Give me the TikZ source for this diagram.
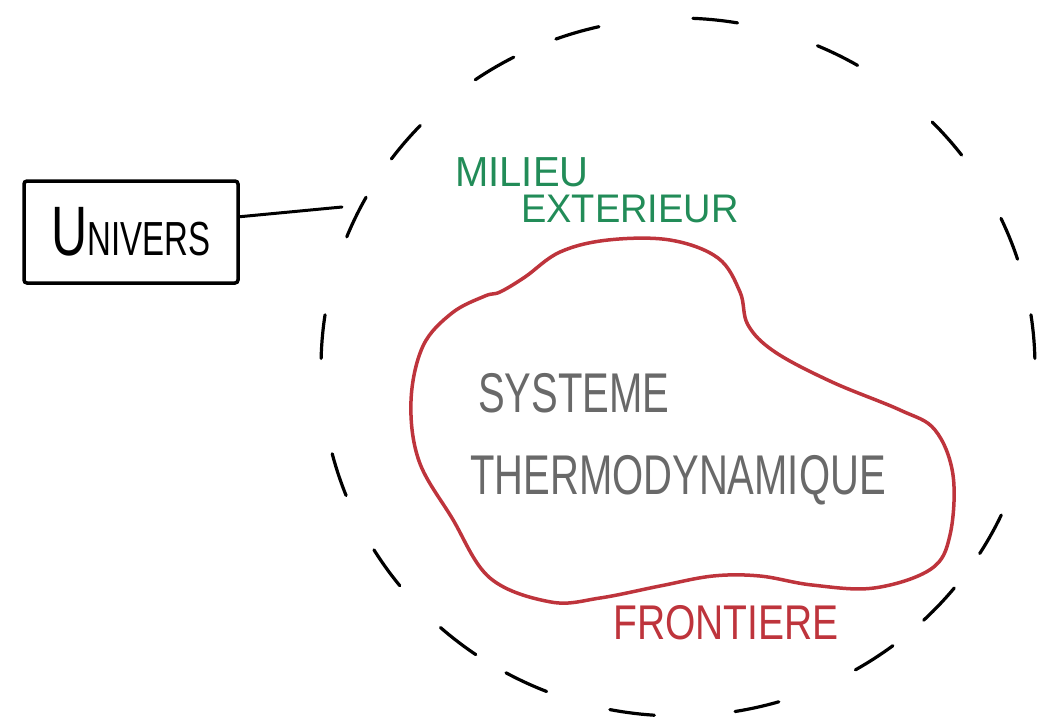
\documentclass[tikz,border=0pt]{standalone}
\usepackage{fontspec}
\setmainfont{Liberation Sans}

\definecolor{milieugreen}{RGB}{34,140,88}
\definecolor{frontred}{RGB}{190,52,60}
\definecolor{sysgray}{RGB}{105,105,105}

% size, vertical stretch, text
\newcommand{\hand}[3]{\scalebox{1}[#2]{\fontsize{#1}{#1}\selectfont #3}}

\tikzset{
  labeltext/.style={inner sep=0pt, anchor=west},
  boxnode/.style={draw, line width=3.5pt, rounded corners=3pt, minimum width=214pt, minimum height=102pt, inner sep=0pt},
  circledash/.style={line width=3.2pt, line cap=round},
}

\begin{document}
\begin{tikzpicture}[x=1pt,y=-1pt]
    \useasboundingbox (0,0) rectangle (1042,721);

    %UNIVERS
    \node[boxnode] (univers) at (131,232) {\hand{50}{1.4}{U}\hand{33}{1.45}{NIVERS}};

    %DASHED CIRCLE
    \foreach \a [evaluate=\a as \s using \a-3.6, evaluate=\a as \e using \a+3.6] in
        {239,253.6,276,296.6,319,338.4,355,28.7,42.9,56.6,77.2,97.4,115.2,128.1,144.8,162,185,205.5,220.2}
        \draw[circledash] plot[domain=\s:\e, samples=8] ({678+357*cos(\x)}, {367+349*sin(\x)});
    \coordinate (tick) at (342,207);
    \draw[line width=3pt, line cap=round] (univers.8) -- (tick);

    %MILIEU EXTERIEUR
    \node[labeltext, text=milieugreen] (milieu) at (455,172) {\hand{40}{1.05}{MILIEU}};
    \node[labeltext, text=milieugreen] (exterieur) at (521,209) {\hand{38}{1.05}{EXTERIEUR}};

    %FRONTIERE
    \draw[frontred, line width=3.5pt] plot[smooth cycle, tension=0.6] coordinates {
        (608,240) (670,240) (718,258) (740,292) (748,325) (775,352) (832,382)
        (900,410) (935,430) (953,475) (950,535) (931,569) (874,588) (812,585)
        (760,576) (713,576) (660,586) (600,598) (551,602) (490,578) (452,518)
        (419,461) (411,401) (423,346) (452,313) (485,296) (500,292) (525,277) (560,252)};
    \node[labeltext, text=frontred] (frontiere) at (613,623) {\hand{39}{1.25}{FRONTIERE}};

    %SYSTEME
    \node[labeltext, text=sysgray] (systeme) at (478,393) {\hand{40}{1.4}{SYSTEME}};
    \node[labeltext, text=sysgray] (thermo) at (470,480) {\hand{40}{1.4}{THERMODYNAMIQUE}};
\end{tikzpicture}
\end{document}
